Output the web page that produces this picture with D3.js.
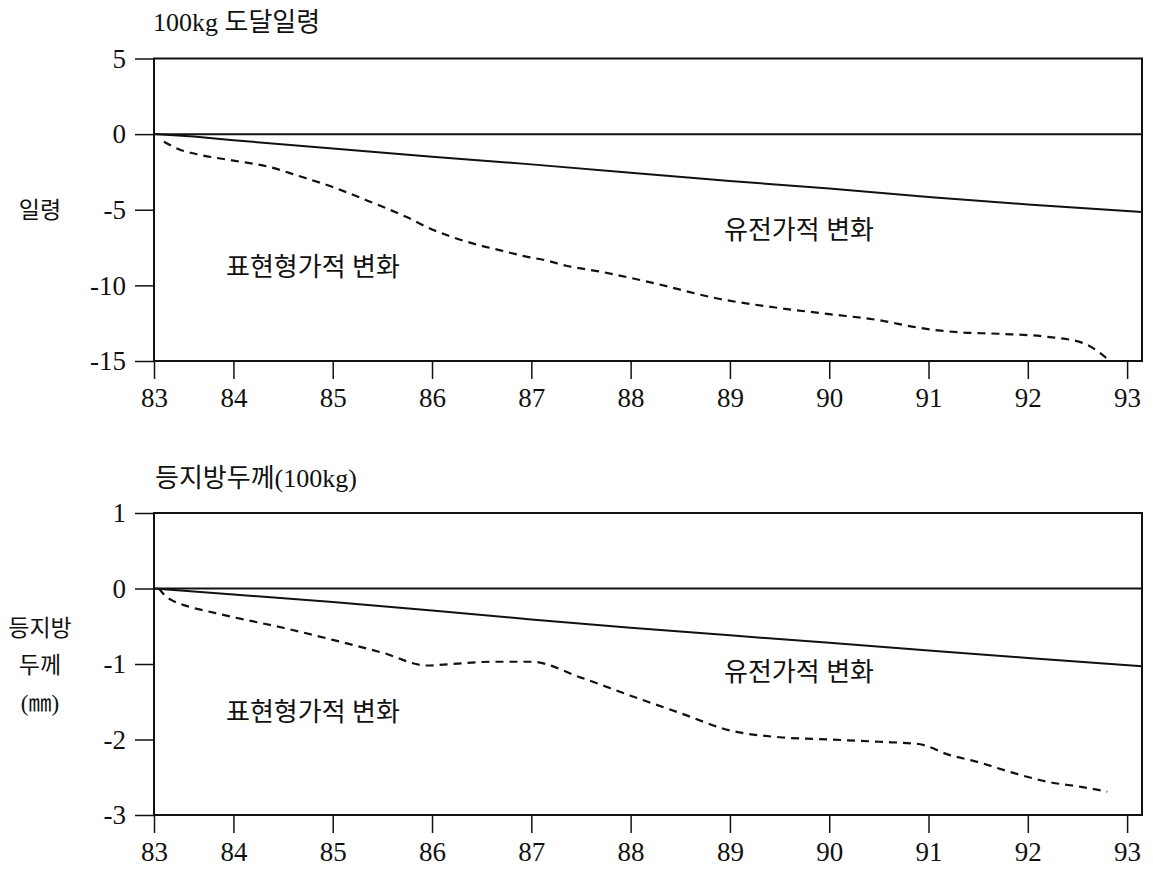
<!DOCTYPE html>
<html><head><meta charset="utf-8">
<script src="https://cdn.jsdelivr.net/npm/d3@7"></script>
<style>
body{margin:0;background:#fff;}
text{font-family:"Liberation Serif","Noto Sans CJK KR",serif;fill:#111;}
</style></head>
<body><svg id="c" width="1153" height="869"></svg>
<script>
// ---- data ----
const xTicks = [83.2, 84, 85, 86, 87, 88, 89, 90, 91, 92, 93];
const xTickLabels = ["83","84","85","86","87","88","89","90","91","92","93"];
const topYTicks = [5, 0, -5, -10, -15];
const botYTicks = [1, 0, -1, -2, -3];

// 100kg 도달일령 : genetic (solid) & phenotypic (dashed)
const topGenYear = [83.2, 83.6, 84, 85, 86, 87, 88, 89, 90, 91, 92, 93.15];
const topGenVal  = [0, -0.15, -0.4, -0.95, -1.5, -2.0, -2.55, -3.1, -3.6, -4.15, -4.65, -5.15];
const topPhenYear = [83.3, 83.45, 83.65, 84.0, 84.35, 84.65, 85.0, 85.35, 85.75, 86.0, 86.2, 86.45, 86.7, 86.95, 87.15, 87.35, 87.7, 88.2, 88.9, 89.5, 90.0, 90.5, 90.9, 91.3, 91.7, 92.2, 92.55, 92.83];
const topPhenVal  = [-0.5, -1.0, -1.35, -1.75, -2.15, -2.75, -3.5, -4.4, -5.5, -6.3, -6.8, -7.3, -7.7, -8.1, -8.35, -8.7, -9.1, -9.8, -10.9, -11.5, -11.9, -12.3, -12.8, -13.1, -13.2, -13.4, -13.8, -15.0];

// 등지방두께 : genetic (solid) & phenotypic (dashed)
const botGenYear = [83.2, 83.6, 84, 85, 86, 87, 88, 89, 90, 91, 92, 93.15];
const botGenVal  = [0, -0.04, -0.08, -0.18, -0.29, -0.41, -0.52, -0.62, -0.72, -0.82, -0.92, -1.03];
const botPhenYear = [83.25, 83.3, 83.4, 83.5, 83.8, 84.0, 84.5, 85.0, 85.5, 85.95, 86.2, 86.6, 87.0, 87.5, 88.0, 88.5, 89.0, 89.5, 90.0, 90.5, 90.9, 91.2, 91.5, 91.9, 92.2, 92.55, 92.8];
const botPhenVal  = [0, -0.08, -0.17, -0.22, -0.32, -0.38, -0.52, -0.68, -0.85, -1.02, -1.0, -0.97, -0.97, -1.18, -1.42, -1.65, -1.88, -1.97, -2.0, -2.03, -2.06, -2.2, -2.3, -2.46, -2.56, -2.63, -2.69];

const svg = d3.select("#c");
const x = d3.scaleLinear().domain([83.2, 93.15]).range([154, 1142]);

function panel(cfg){
  const y = d3.scaleLinear().domain(cfg.yDomain).range(cfg.yRange);
  const g = svg.append("g");
  const x0 = x.range()[0], x1 = x.range()[1];
  const yT = y(cfg.yDomain[1]), yB = y(cfg.yDomain[0]);
  // frame
  g.append("rect").attr("x", x0).attr("y", yT).attr("width", x1 - x0).attr("height", yB - yT)
    .attr("fill","none").attr("stroke","#111").attr("stroke-width",2);
  // zero line
  g.append("line").attr("x1", x0).attr("x2", x1).attr("y1", y(0)).attr("y2", y(0))
    .attr("stroke","#111").attr("stroke-width",2);
  // y axis
  const ya = g.append("g").attr("transform",`translate(${x0},0)`)
    .call(d3.axisLeft(y).tickValues(cfg.yTicks).tickSize(19).tickPadding(9).tickFormat(d => d < 0 ? "-" + Math.abs(d) : String(d)));
  ya.select(".domain").remove();
  ya.selectAll(".tick line").attr("stroke","#111").attr("stroke-width",1.5);
  ya.selectAll(".tick text").attr("font-size",27).attr("fill","#111");
  // x axis
  const xa = g.append("g").attr("transform",`translate(0,${yB})`)
    .call(d3.axisBottom(x).tickValues(xTicks).tickSize(18).tickPadding(9).tickFormat((d,i) => xTickLabels[i]));
  xa.select(".domain").remove();
  xa.selectAll(".tick line").attr("stroke","#111").attr("stroke-width",1.5);
  xa.selectAll(".tick text").attr("font-size",27).attr("fill","#111");

  const line = d3.line().x(d => x(d[0])).y(d => y(d[1]));
  g.append("path").datum(cfg.genYear.map((v,i)=>[v,cfg.genVal[i]]))
    .attr("d", line).attr("fill","none").attr("stroke","#111").attr("stroke-width",2);
  g.append("path").datum(cfg.phenYear.map((v,i)=>[v,cfg.phenVal[i]]))
    .attr("d", line.curve(d3.curveMonotoneX)).attr("fill","none").attr("stroke","#111")
    .attr("stroke-width",2.2).attr("stroke-dasharray","8,6");

  // title
  g.append("text").attr("x", cfg.titleX).attr("y", cfg.titleY).attr("font-size",26).text(cfg.title);
  // y label lines
  cfg.yLabel.forEach((t,i) => {
    g.append("text").attr("x", 40).attr("y", cfg.yLabelY[i]).attr("text-anchor","middle")
      .attr("dominant-baseline","central").attr("font-size",23).text(t);
  });
  // annotations
  g.append("text").attr("x", 724).attr("y", cfg.genLabelY).attr("dominant-baseline","central")
    .attr("font-size",26).text("유전가적 변화");
  g.append("text").attr("x", 226).attr("y", cfg.phenLabelY).attr("dominant-baseline","central")
    .attr("font-size",26).text("표현형가적 변화");
}

panel({
  yDomain:[-15,5], yRange:[361,58.5], yTicks: topYTicks,
  genYear: topGenYear, genVal: topGenVal, phenYear: topPhenYear, phenVal: topPhenVal,
  title:"100kg 도달일령", titleX:153, titleY:31,
  yLabel:["일령"], yLabelY:[210],
  genLabelY:230, phenLabelY:267
});
panel({
  yDomain:[-3,1], yRange:[815,513], yTicks: botYTicks,
  genYear: botGenYear, genVal: botGenVal, phenYear: botPhenYear, phenVal: botPhenVal,
  title:"등지방두께(100kg)", titleX:155, titleY:487,
  yLabel:["등지방","두께","(㎜)"], yLabelY:[628,665,703],
  genLabelY:672, phenLabelY:712
});
</script></body></html>
